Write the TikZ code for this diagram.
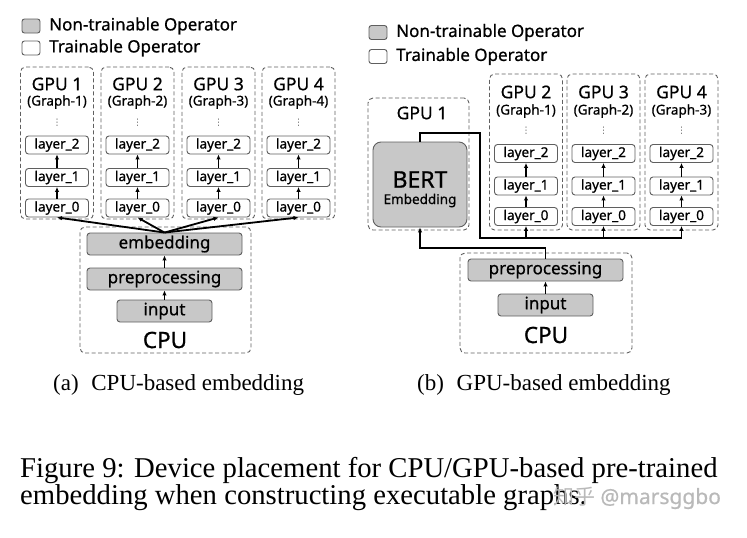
\documentclass[tikz,border=0pt]{standalone}
\usepackage{fontspec}
\setmainfont{Liberation Serif}
\setsansfont{Noto Sans}[FakeBold=0.7]
\newfontfamily\cjkfont{Noto Sans CJK SC}
\newfontfamily\dotsfont{DejaVu Sans}
\usetikzlibrary{arrows.meta}

\definecolor{opgray}{RGB}{200,200,200}
\definecolor{linegray}{RGB}{95,95,95}
\definecolor{markgray}{RGB}{185,185,185}

\begin{document}
\begin{tikzpicture}[>={Latex[length=5pt,width=4.5pt]}, x=1pt, y=-1pt,
    device/.style={draw=linegray, dash pattern=on 4pt off 2.5pt, rounded corners=5pt, line width=0.9pt, inner sep=0pt, minimum width=73pt},
    trainop/.style={draw=linegray, rounded corners=3pt, line width=0.9pt, fill=white, inner sep=0pt, minimum width=63pt, minimum height=18pt, font=\sffamily\fontsize{13.5}{13.5}\selectfont},
    fixop/.style={trainop, fill=opgray, minimum width=155pt, minimum height=22pt, font=\sffamily\fontsize{17}{17}\selectfont},
    legendbox/.style={draw=linegray, rounded corners=2.5pt, line width=0.9pt, minimum width=18pt, minimum height=14pt, inner sep=0pt},
    legendtext/.style={anchor=west, inner sep=0pt, font=\sffamily\fontsize{17}{17}\selectfont},
    devname/.style={inner sep=0pt, font=\sffamily\fontsize{17.5}{17.5}\selectfont},
    graphname/.style={inner sep=0pt, font=\sffamily\fontsize{13.5}{13.5}\selectfont},
    layerdots/.style={inner sep=0pt, text=linegray, font=\dotsfont\fontsize{9}{9}\selectfont},
    cpuname/.style={inner sep=0pt, font=\sffamily\fontsize{22.5}{22.5}\selectfont},
    subcap/.style={anchor=base west, inner sep=0pt, font=\fontsize{23}{23}\selectfont},
    figcap/.style={anchor=base west, inner sep=0pt, font=\fontsize{28.7}{28.7}\selectfont},
    bus/.style={line width=1.8pt, black},
    step arrow/.style={->, line width=1.1pt, black}]

    \useasboundingbox (0,0) rectangle (747,538);

    % ---- (a) CPU-based embedding ----
    \node[legendbox, fill=opgray] (fixkeyA) at (31,26) {};
    \node[legendtext] (fixtextA) at (49,26) {Non-trainable Operator};
    \node[legendbox, fill=white] (trainkeyA) at (31,48) {};
    \node[legendtext] (traintextA) at (49,48) {Trainable Operator};

    \node[device, minimum width=171pt, minimum height=126pt] (cpuA) at (165.5,290) {};
    \node[fixop] (embedA) at (164.5,244) {embedding};
    \node[fixop] (prepA) at (164.5,279) {preprocessing};
    \node[fixop, minimum width=95pt] (inputA) at (164.5,311) {input};
    \node[cpuname] (cpuAname) at (165,340) {CPU};
    \draw[step arrow] (inputA) -- (prepA);
    \draw[step arrow] (prepA) -- (embedA);

    \foreach \i/\x in {1/57,2/137.5,3/218.5,4/298.5} {
        \node[device, minimum height=152pt] (gpuA\i) at (\x,143) {};
        \node[devname] (gpuAname\i) at (\x,84) {GPU \i};
        \node[graphname] (graphA\i) at (\x,102) {(Graph-\i)};
        \node[layerdots] (dotsA\i) at (\x,123) {⋮};
        \node[trainop] (layerAc\i) at (\x,145) {layer\_2};
        \node[trainop] (layerAb\i) at (\x,177.5) {layer\_1};
        \node[trainop] (layerAa\i) at (\x,208) {layer\_0};
        \draw[step arrow] (layerAa\i) -- (layerAb\i);
        \draw[step arrow] (layerAb\i) -- (layerAc\i);
        \draw[->, bus] (embedA.north) -- (layerAa\i.south);
    }

    \node[subcap] (capA) at (53,390) {(a)\hspace{0.55em}CPU-based embedding};

    % ---- (b) GPU-based embedding ----
    \node[legendbox, fill=opgray] (fixkeyB) at (378,32.5) {};
    \node[legendtext] (fixtextB) at (396,32.5) {Non-trainable Operator};
    \node[legendbox, fill=white] (trainkeyB) at (378,56.5) {};
    \node[legendtext] (traintextB) at (396,56.5) {Trainable Operator};

    \node[device, minimum width=101pt, minimum height=132pt] (gpuB1) at (418.5,164) {};
    \node[devname] (gpuBname1) at (422,113) {GPU 1};
    \node[fixop, minimum width=94pt, minimum height=85pt, rounded corners=8pt] (bert) at (420,184.5) {};
    \node[inner sep=0pt, font=\sffamily\fontsize{23}{23}\selectfont] (berttext) at (420,179.5) {BERT};
    \node[inner sep=0pt, font=\sffamily\fontsize{13.5}{13.5}\selectfont] (bertsub) at (420,200.5) {Embedding};

    \foreach \i/\g/\x in {2/1/526,3/2/603.5,4/3/681.5} {
        \node[device, minimum height=156pt] (gpuB\i) at (\x,152) {};
        \node[devname] (gpuBname\i) at (\x,92) {GPU \i};
        \node[graphname] (graphB\i) at (\x,111) {(Graph-\g)};
        \node[layerdots] (dotsB\i) at (\x,131) {⋮};
        \node[trainop] (layerBc\i) at (\x,153.5) {layer\_2};
        \node[trainop] (layerBb\i) at (\x,186) {layer\_1};
        \node[trainop] (layerBa\i) at (\x,216.5) {layer\_0};
        \draw[step arrow] (layerBa\i) -- (layerBb\i);
        \draw[step arrow] (layerBb\i) -- (layerBc\i);
    }

    \node[device, minimum width=172pt, minimum height=100pt] (cpuB) at (546,303) {};
    \node[fixop] (prepB) at (545.5,270) {preprocessing};
    \node[fixop, minimum width=95pt] (inputB) at (545.5,305) {input};
    \node[cpuname] (cpuBname) at (546,335) {CPU};
    \draw[step arrow] (inputB) -- (prepB);

    \coordinate (bertup) at (480,133);
    \coordinate (busB) at (480,238);
    \coordinate (prepup) at (546,248);
    \draw[->, bus] (bert.north) |- (bertup) -- (busB) -| (layerBa4.south);
    \draw[->, bus] (layerBa2.south |- busB) -- (layerBa2.south);
    \draw[->, bus] (layerBa3.south |- busB) -- (layerBa3.south);
    \draw[->, bus] (prepB.north) -- (prepB.north |- prepup) -| (bert.south);

    \node[subcap] (capB) at (417,390) {(b)\hspace{0.55em}GPU-based embedding};

    % ---- figure caption ----
    \node[figcap] (figline1) at (20,477) {Figure 9: Device placement for CPU/GPU-based pre-trained};
    \node[figcap] (figline2) at (20,504) {embedding when constructing executable graphs.};
    \node[anchor=base west, inner sep=0pt, text=markgray, font=\fontsize{21}{21}\selectfont] (watermark) at (553,504) {{\cjkfont 知乎}\ {\sffamily @marsggbo}};

\end{tikzpicture}
\end{document}
